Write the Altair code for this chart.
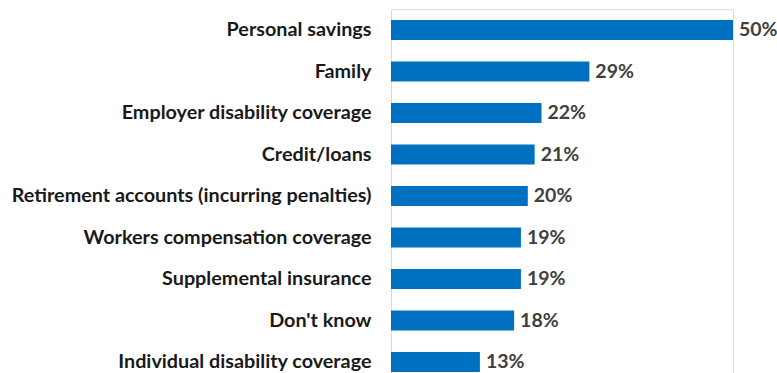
import altair as alt
import pandas as pd

categories = [
    "Personal savings",
    "Family",
    "Employer disability coverage",
    "Credit/loans",
    "Retirement accounts (incurring penalties)",
    "Workers compensation coverage",
    "Supplemental insurance",
    "Don't know",
    "Individual disability coverage",
]
values = [50, 29, 22, 21, 20, 19, 19, 18, 13]

df = pd.DataFrame({"category": categories, "value": values})
df["label"] = df["value"].astype(str) + "%"

y = alt.Y(
    "category:N",
    sort=categories,
    scale=alt.Scale(range=[0, 373.5], paddingInner=0.518, paddingOuter=0.259),
    axis=alt.Axis(
        title=None,
        ticks=False,
        domainColor="#d9d9d9",
        domainWidth=1,
        labelFont="Lato",
        labelFontWeight="bold",
        labelFontSize=19.8,
        labelColor="#1a1a1a",
        labelPadding=20,
        labelLimit=400,
    ),
)
x = alt.X("value:Q", scale=alt.Scale(domain=[0, 50]), axis=None)

bars = alt.Chart(df).mark_bar(color="#0070C0").encode(x=x, y=y)
text = alt.Chart(df).mark_text(
    align="left", dx=6, font="Lato", fontWeight="bold", fontSize=19.5, color="#404040"
).encode(x=x, y=y, text="label:N")

chart = (
    (bars + text)
    .properties(
        width=342,
        height=363.75,
        autosize=alt.AutoSizeParams(type="none"),
        padding={"left": 391, "top": 9.25, "right": 44, "bottom": 0},
    )
    .configure_view(stroke=None)
    .configure(background="white")
)

chart.save("out.html", embed_options={"renderer": "svg", "actions": False})
